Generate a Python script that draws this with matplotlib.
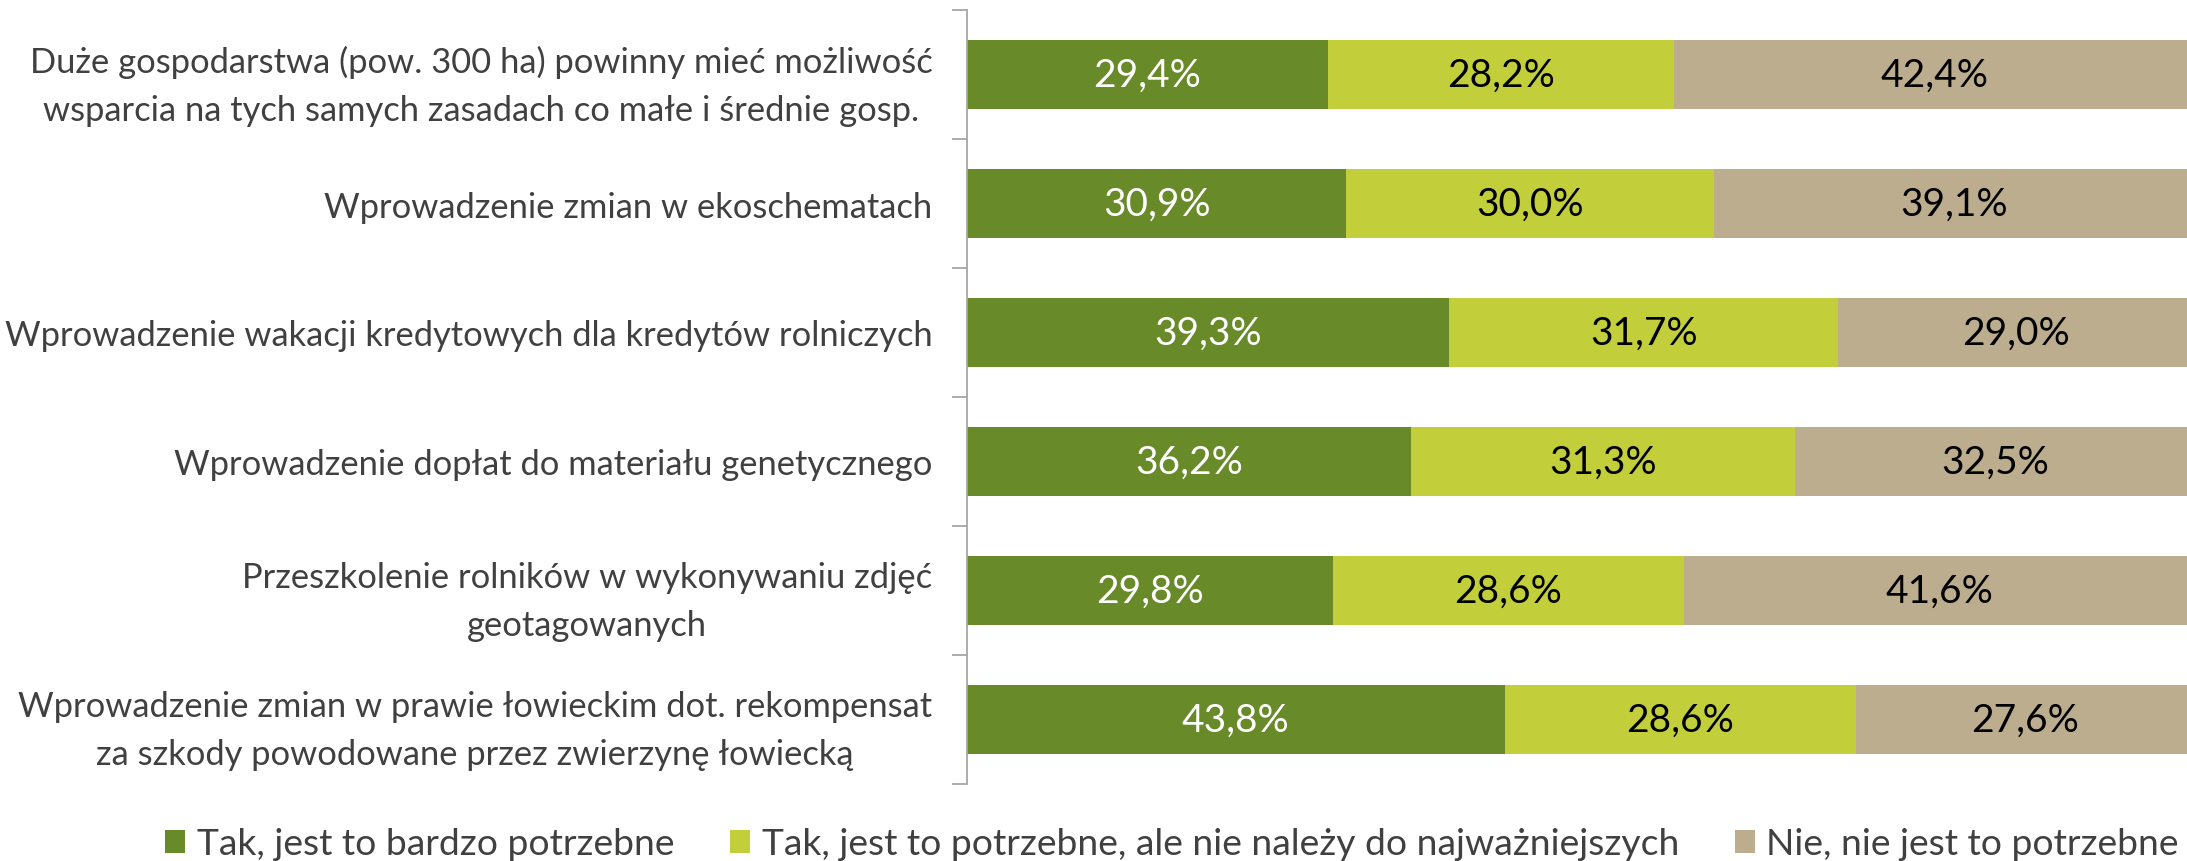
import matplotlib
matplotlib.use("Agg")
import matplotlib.pyplot as plt
from matplotlib.patches import Patch
import numpy as np

plt.rcParams['font.family'] = ['Lato', 'DejaVu Sans']

categories = [
    "Duże gospodarstwa (pow. 300 ha) powinny mieć możliwość\nwsparcia na tych samych zasadach co małe i średnie gosp.",
    "Wprowadzenie zmian w ekoschematach",
    "Wprowadzenie wakacji kredytowych dla kredytów rolniczych",
    "Wprowadzenie dopłat do materiału genetycznego",
    "Przeszkolenie rolników w wykonywaniu zdjęć\ngeotagowanych",
    "Wprowadzenie zmian w prawie łowieckim dot. rekompensat\nza szkody powodowane przez zwierzynę łowiecką",
]
series_names = [
    "Tak, jest to bardzo potrzebne",
    "Tak, jest to potrzebne, ale nie należy do najważniejszych",
    "Nie, nie jest to potrzebne",
]
tak_bardzo = [29.4, 30.9, 39.3, 36.2, 29.8, 43.8]
tak_potrzebne = [28.2, 30.0, 31.7, 31.3, 28.6, 28.6]
nie = [42.4, 39.1, 29.0, 32.5, 41.6, 27.6]

colors = ["#688A28", "#C2CF3B", "#BBAD8E"]
label_colors = ["white", "black", "black"]
text_color = "#404040"
FS = 24.8
FS_DATA = 28
FS_LEG = 26.8

W, H = 2187, 862
fig = plt.figure(figsize=(W / 100, H / 100), dpi=100)
ax = fig.add_axes([967 / W, 1 - 785 / H, 1 - 967 / W, (785 - 11) / H])

y = np.arange(len(categories))
left = np.zeros(len(categories))
for vals, col, lc in zip([tak_bardzo, tak_potrzebne, nie], colors, label_colors):
    vals = np.array(vals)
    bars = ax.barh(y, vals, left=left, height=0.54, color=col, edgecolor='none')
    for b, v in zip(bars, vals):
        ax.text(b.get_x() + b.get_width() / 2, b.get_y() + b.get_height() / 2,
                f"{v:.1f}%".replace('.', ','), ha='center', va='center',
                color=lc, fontsize=FS_DATA, clip_on=False)
    left += vals

ax.set_xlim(0, 99.4)
ax.set_ylim(len(categories) - 0.5, -0.5)
ax.set_yticks(y)
ax.set_yticklabels(categories, fontsize=FS, color=text_color)
for lab in ax.get_yticklabels():
    lab.set_multialignment('center')
    lab.set_linespacing(1.6)
ax.tick_params(axis='y', which='major', length=0, pad=25)
ax.set_yticks(np.arange(-0.5, len(categories)), minor=True)
ax.tick_params(axis='y', which='minor', length=11, width=1.3, color='#A6A6A6', direction='out')
ax.set_xticks([])
for s in ['top', 'right', 'bottom']:
    ax.spines[s].set_visible(False)
ax.spines['left'].set_color('#A6A6A6')
ax.spines['left'].set_linewidth(1.3)

handles = [Patch(facecolor=c, edgecolor='none') for c in colors]
fig.legend(handles, series_names, loc='center left', bbox_to_anchor=(165 / W, 1 - 845 / H),
           ncol=3, frameon=False, fontsize=FS_LEG, handlelength=0.55, handleheight=0.55,
           handletextpad=0.3, columnspacing=1.5, borderaxespad=0, borderpad=0,
           labelcolor=text_color)

fig.savefig("out.png", dpi=100)
